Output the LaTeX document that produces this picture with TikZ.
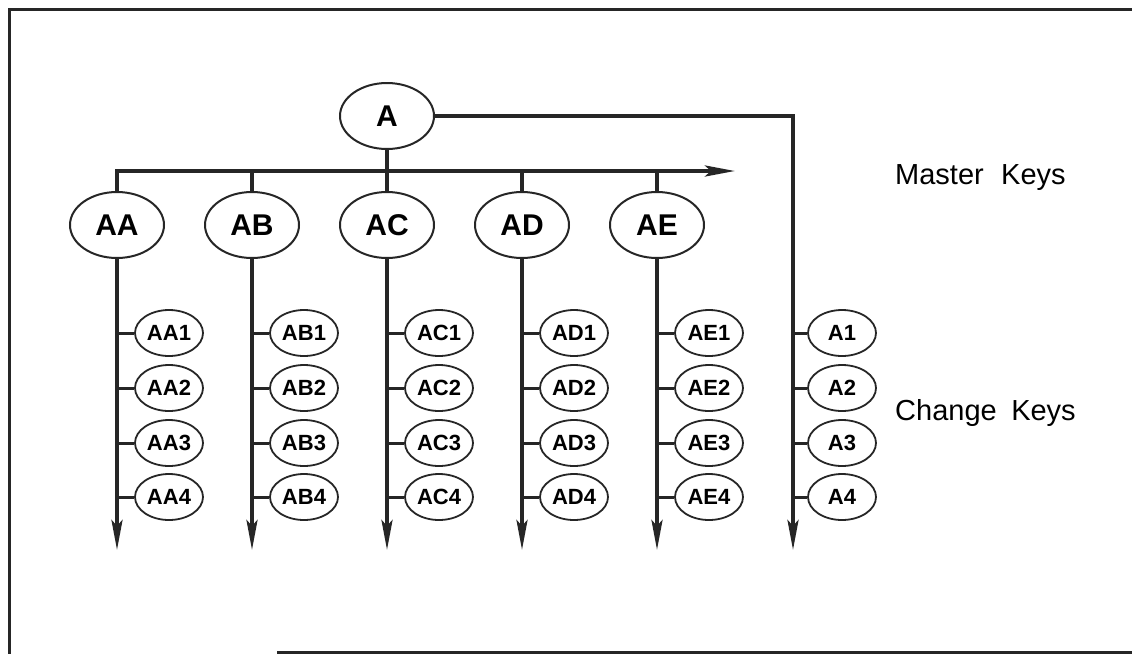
\documentclass[tikz,border=0pt]{standalone}
\usepackage{fontspec}
\setmainfont{Liberation Sans}
\usetikzlibrary{arrows.meta,shapes.geometric}
\begin{document}
\begin{tikzpicture}[x=1pt,y=-1pt,
  ink/.style={draw=black!85},
  big/.style={ellipse,ink,fill=white,line width=2pt,minimum width=94pt,minimum height=66pt,inner sep=0pt,
    font=\fontsize{30}{30}\selectfont\bfseries},
  small/.style={ellipse,ink,fill=white,line width=1.8pt,minimum width=68pt,minimum height=46pt,inner sep=0pt,
    font=\fontsize{22}{22}\selectfont\bfseries},
  trunk/.style={ink,line width=4pt},
  stub/.style={ink,line width=3pt},
  tip/.style={-{Stealth[length=30pt,width=11pt,inset=6pt]}},
  caption/.style={anchor=west,inner sep=0pt,font=\fontsize{29}{29}\selectfont},
  frame/.style={ink,line width=3pt}
]
\useasboundingbox (0,0) rectangle (1132,654);
% frame
\draw[frame] (1132,9) -- (9,9) -- (9,654);
\draw[frame] (277,652) -- (1132,652);

% master node
\node[big] (A) at (387,116) {A};

% second level and change keys
\foreach \n/\x in {AA/117,AB/252,AC/387,AD/522,AE/657} {
  \node[big] (\n) at (\x,225) {\n};
  \coordinate (end\n) at (\x,550);
  \foreach \i/\y in {1/333,2/388,3/443,4/497} {
    \node[small] (\n\i) at (\x+52,\y) {\n\i};
  }
}
\coordinate (barEnd) at (735,171);
\node[small] (A1) at (842,333) {A1};
\node[small] (A2) at (842,388) {A2};
\node[small] (A3) at (842,443) {A3};
\node[small] (A4) at (842,497) {A4};
\coordinate (endA) at (793,550);

% horizontal bar
\draw[trunk,tip] (AA.north) |- (barEnd);
\draw[trunk] (A.south) -- (A.south |- barEnd);
\foreach \n in {AB,AC,AD,AE} {
  \draw[trunk] (\n.north) -- (\n.north |- barEnd);
}
% vertical trunks
\foreach \n in {AA,AB,AC,AD,AE} {
  \draw[trunk,tip] (\n.south) -- (end\n);
  \foreach \i in {1,2,3,4} {
    \draw[stub] (\n\i.west) -- (\n\i.west -| end\n);
  }
}
% right trunk from A
\draw[trunk,tip] (A.east) -| (endA);
\foreach \i in {1,2,3,4} {
  \draw[stub] (A\i.west) -- (A\i.west -| endA);
}

% captions
\node[caption] (mk) at (895,178) {Master\hspace{0.6em}Keys};
\node[caption] (ck) at (895,413) {Change\hspace{0.5em}Keys};
\end{tikzpicture}
\end{document}
